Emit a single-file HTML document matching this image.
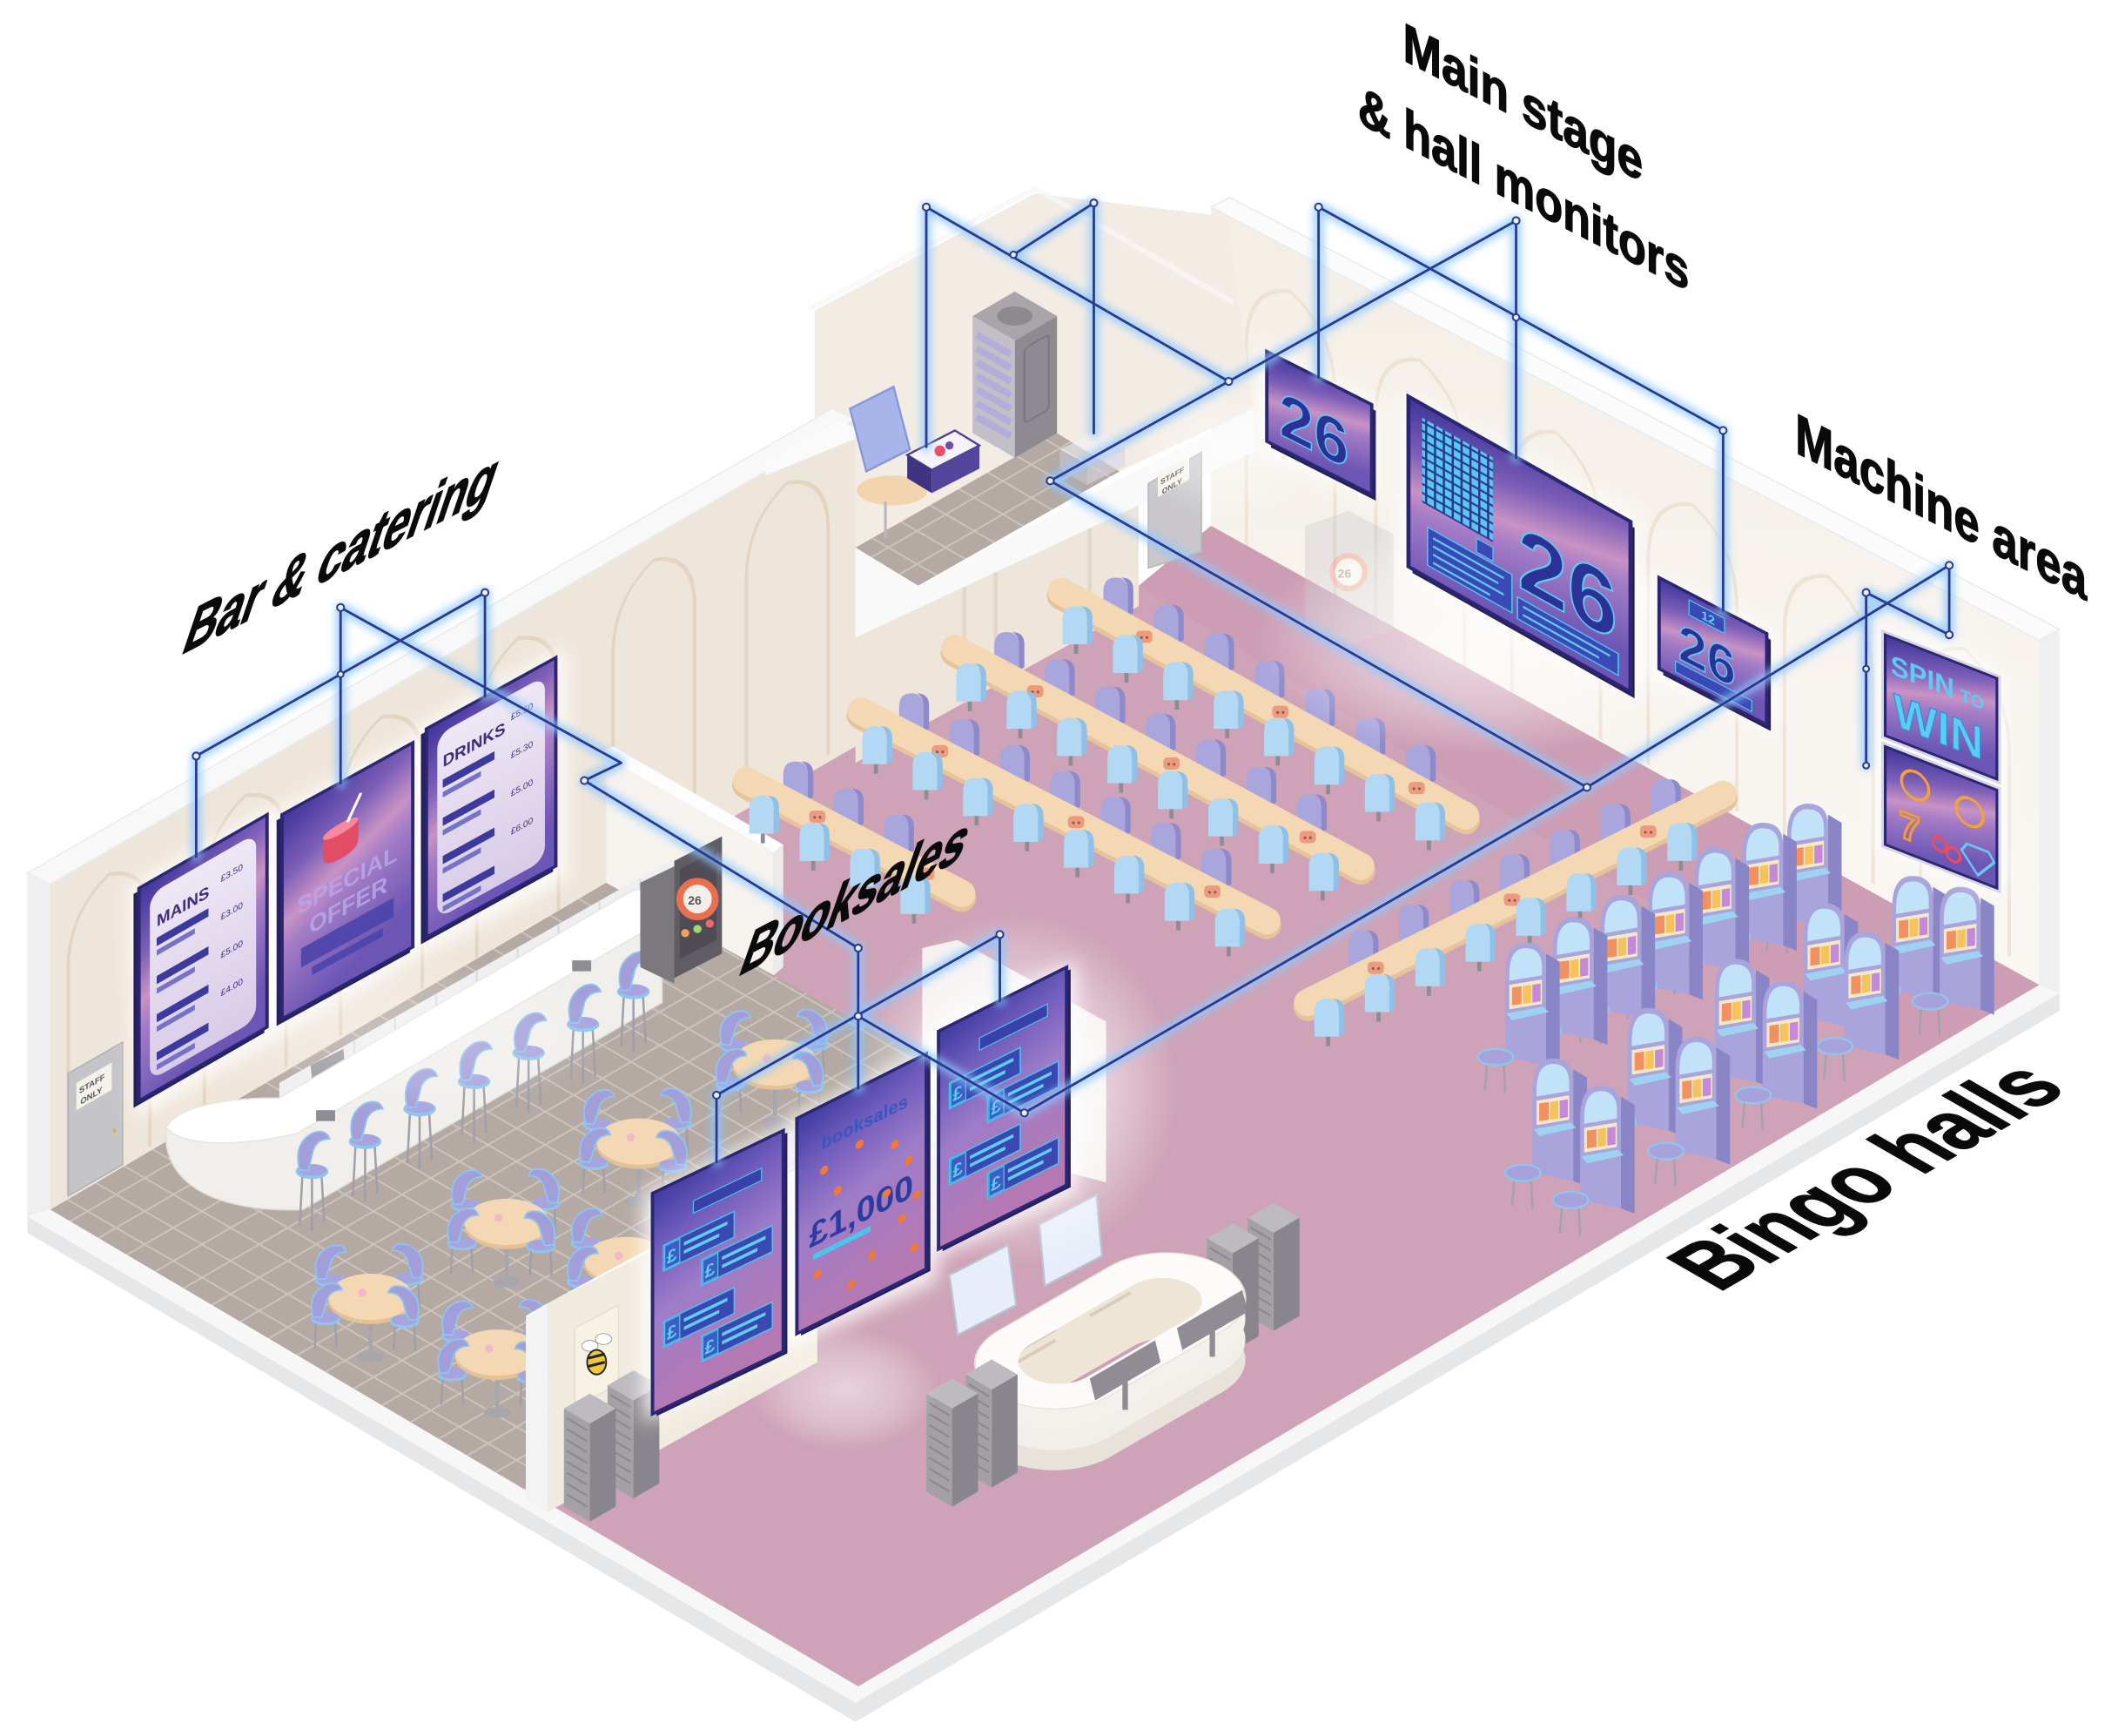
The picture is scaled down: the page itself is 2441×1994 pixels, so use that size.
<!DOCTYPE html>
<html><head><meta charset="utf-8">
<style>
html,body{margin:0;padding:0;background:#fff;}
svg{display:block;}
text{font-family:"Liberation Sans",sans-serif;}
</style></head><body>
<svg width="2441" height="1994" viewBox="0 0 1560 1274.4" xmlns="http://www.w3.org/2000/svg">
<defs>
 <linearGradient id="gS" x1="0" y1="0" x2="0.3" y2="1">
  <stop offset="0" stop-color="#3f349a"/><stop offset="0.3" stop-color="#7d5fb8"/>
  <stop offset="0.5" stop-color="#c892c4"/><stop offset="0.62" stop-color="#a47cc6"/>
  <stop offset="1" stop-color="#6b55b5"/>
 </linearGradient>
 <linearGradient id="gB" x1="0" y1="0" x2="0.2" y2="1">
  <stop offset="0" stop-color="#3e3aa0"/><stop offset="0.25" stop-color="#6f5cbc"/>
  <stop offset="0.55" stop-color="#9e7cc8"/><stop offset="1" stop-color="#b479b3"/>
 </linearGradient>
 <linearGradient id="gP" x1="0" y1="0" x2="0" y2="1">
  <stop offset="0" stop-color="#eee8f5"/><stop offset="1" stop-color="#d8cbe8"/>
 </linearGradient>
 <linearGradient id="gWR" x1="0" y1="0" x2="0" y2="1">
  <stop offset="0" stop-color="#f4eee6"/><stop offset="1" stop-color="#faf7f3"/>
 </linearGradient>
 <radialGradient id="hz"><stop offset="0" stop-color="#fff" stop-opacity="0.95"/><stop offset="0.6" stop-color="#fff" stop-opacity="0.5"/><stop offset="1" stop-color="#fff" stop-opacity="0"/></radialGradient>
 <pattern id="tl" width="21" height="21" patternUnits="userSpaceOnUse" patternTransform="matrix(1,0.58,1,-0.58,0,0)"><rect width="21" height="21" fill="#b4a9a3"/><path d="M0 0.6H21M0.6 0V21" stroke="#cdc4be" stroke-width="1.3"/></pattern>
 <pattern id="gd" width="6.5" height="6.5" patternUnits="userSpaceOnUse"><rect x="0.8" y="0.8" width="4.9" height="4.9" fill="#58c8f0"/></pattern>
 <filter id="gl" x="-5%" y="-5%" width="110%" height="110%"><feGaussianBlur stdDeviation="3"/></filter>
 <filter id="bl" x="-20%" y="-20%" width="140%" height="140%"><feGaussianBlur stdDeviation="7"/></filter>
 <clipPath id="cin"><rect x="-68" y="-24" width="136" height="48" rx="24" transform="matrix(0.866,-0.5,0.866,0.5,815,977)"/></clipPath>

 <g id="cp"><rect x="-1.5" y="-3" width="3" height="10" fill="#8d8b94"/><path d="M-10 0V-18Q-10 -28 -1 -28Q8 -28 8 -18V0Z" fill="#a9a5dd"/><path d="M8 -18Q8 -26 3 -28Q12 -28 12 -19V-2L8 0Z" fill="#8e89cb"/></g>
 <g id="cb"><rect x="-1.5" y="-3" width="3" height="10" fill="#8d8b94"/><path d="M-10 0V-18Q-10 -28 -1 -28Q8 -28 8 -18V0Z" fill="#b3d8f3"/><path d="M8 -18Q8 -26 3 -28Q12 -28 12 -19V-2L8 0Z" fill="#8fc1e8"/></g>
 <g id="st"><path d="M-7 2L-9 40M7 2L9 38M0 3V44" stroke="#a09fa8" stroke-width="1.6" fill="none"/><ellipse rx="12" ry="5.5" fill="#8fc4ee"/><ellipse cy="-1.2" rx="10.5" ry="4.2" fill="#a7a3de"/><path d="M-9 -1Q-14 -20 0 -28Q10 -32 13 -24Q4 -24 1 -16Q-1 -7 -3 -1Z" fill="#a29ed9" stroke="#8fc4ee" stroke-width="1.2"/></g>
 <g id="bc"><path d="M-7 2L-8 22M7 2L8 21" stroke="#a09fa8" stroke-width="1.5" fill="none"/><ellipse rx="11" ry="5" fill="#8fc4ee"/><ellipse cy="-1" rx="9.5" ry="4" fill="#a7a3de"/><path d="M-9 -1Q-14 -18 0 -25Q10 -28 12 -21Q4 -21 1 -14Q-1 -6 -3 -1Z" fill="#a29ed9" stroke="#8fc4ee" stroke-width="1.2"/></g>
 <g id="bt"><path d="M0 8V40" stroke="#a8a6ad" stroke-width="3"/><ellipse cy="44" rx="10" ry="4" fill="#a8a6ad"/><ellipse cy="3" rx="31" ry="17" fill="#e5c197"/><ellipse rx="31" ry="17" fill="#f4d8b3"/><circle cx="-6" cy="-3" r="3" fill="#f2b8c8"/></g>
 <g id="dab"><rect x="-6" y="-5" width="12" height="9" rx="3" fill="#ec9b7f"/><circle cx="-2" cy="0" r="1" fill="#8a5a50"/><circle cx="2" cy="0" r="1" fill="#8a5a50"/></g>
 <g id="sm">
  <path d="M12 8L22 14V94L12 90Z" fill="#8985c7"/>
  <path d="M-18 24Q-18 0 -3 0Q12 0 12 16V90L-18 84Z" fill="#a9a4dc"/>
  <path d="M-15 24Q-15 4 -3 4Q9 4 9 18V24L-15 28Z" fill="#c2e3f7"/>
  <path d="M-15 31L9 27V45L-15 49Z" fill="#f5e8c8"/>
  <path d="M-13 33L-6 32V45L-13 46Z" fill="#f3905f"/>
  <path d="M-5 32L1 31V44L-5 45Z" fill="#f6c35a"/>
  <path d="M2 31L8 30V43L2 44Z" fill="#c48ad8"/>
  <path d="M-17 52L10 47L14 51L-13 57Z" fill="#9fd2f0"/>
  <path d="M-31 86L-33 108M-19 88L-18 110" stroke="#a3a1aa" stroke-width="1.5"/>
  <ellipse cx="-25" cy="84" rx="13" ry="6" fill="#a7a2db" stroke="#8fc6ee" stroke-width="1.5"/>
 </g>
 <g id="rk">
  <path d="M0 0L-19 -11L0 -22L19 -11Z" fill="#bdbac0"/>
  <path d="M-19 -11L0 0V72L-19 61Z" fill="#a3a0a6"/>
  <path d="M0 0L19 -11V61L0 72Z" fill="#88858c"/>
  <path d="M-17 -4L-2 5M-17 4L-2 13M-17 12L-2 21M-17 20L-2 29M-17 28L-2 37M-17 36L-2 45M-17 44L-2 53M-17 52L-2 61" stroke="#8c8990" stroke-width="1.4"/>
 </g>
 <g id="mb"><rect width="38" height="6" fill="#3d3a9e"/><rect y="9" width="28" height="4" fill="#7572c8"/></g>
 <g id="lb"><rect width="52" height="19" fill="#3a48b2" stroke="#48c5ef" stroke-width="1"/><rect x="1" y="1" width="11" height="17" fill="#3f5cc4" stroke="#48c5ef" stroke-width="0.8"/><text x="2.5" y="15" font-size="13" font-weight="700" fill="#5fd0f5">£</text><rect x="15" y="5" width="32" height="2.5" fill="#5fd0f5"/><rect x="15" y="11" width="26" height="2.5" fill="#5fd0f5"/></g>
 <path id="ln" d="M250 446V575M356 435V511M250 446L456 560L429 573L630 696M356 435L144 555V629M630 696V799M734 686V735M734 686L526 804V853M630 746L752 817L1165 578L1431 415V466M1370 435V562M1370 435L1431 466M680 152V328M803 149V318M680 152L902 280L1113 162V336M803 149L744 187M902 280L771 353L1165 578M968 152V277M968 152L1265 316V448"/>
</defs>

<rect width="1560" height="1274.4" fill="#fff"/>

<!-- base slab -->
<polygon points="20,893 628,1250 1512,729 1512,742 628,1264 20,905" fill="#e6e7e9"/>
<polygon points="20,893 37,888 630,1237 1497,722 1512,729 628,1250" fill="#f7f7f8"/>

<!-- right back wall -->
<polygon points="889,152 1497,470 1497,723 889,386" fill="url(#gWR)"/>
<g transform="matrix(1,0.53,0,1,0,0)" fill="none" stroke="#ecdfcf" stroke-width="2.5" opacity="0.8">
 <path d="M915 -80V-230Q915 -275 947 -288Q980 -275 980 -230V-80"/>
 <path d="M1010 -80V-230Q1010 -275 1042 -288Q1075 -275 1075 -230V-80"/>
 <path d="M1110 -80V-230Q1110 -275 1142 -288Q1175 -275 1175 -230V-80"/>
 <path d="M1210 -80V-230Q1210 -275 1242 -288Q1275 -275 1275 -230V-80"/>
 <path d="M1310 -80V-230Q1310 -275 1342 -288Q1375 -275 1375 -230V-80"/>
 <path d="M1410 -80V-230Q1410 -275 1442 -288Q1475 -275 1475 -230V-80"/>
</g>
<polygon points="889,152 903,145 1512,462 1497,470" fill="#fbfbfb" stroke="#ebebed" stroke-width="1"/>
<polygon points="1497,470 1512,462 1512,729 1497,723" fill="#efeff1"/>

<!-- server room back -->
<polygon points="598,228 760,142 901,159 920,300 822,346 776,318 630,402 598,413" fill="#f3ece4"/>
<polyline points="594,227 760,138 905,222" fill="none" stroke="#f8f8f8" stroke-width="4" opacity="0.8"/>
<polygon points="628,402 674,430 822,346 776,318" fill="url(#tl)"/>

<!-- left long wall -->
<polygon points="37,649 628,308 628,620 37,888" fill="#efe6db"/>
<g transform="matrix(1,-0.577,0,1,0,0)" fill="none" stroke="#e4d4c1" stroke-width="2.5">
 <path d="M50 905V740Q50 700 80 688Q110 700 110 740V905"/>
 <path d="M150 905V740Q150 700 180 688Q210 700 210 740V905"/>
 <path d="M250 905V740Q250 700 280 688Q310 700 310 740V905"/>
 <path d="M350 905V740Q350 700 380 688Q410 700 410 740V905"/>
 <path d="M450 905V740Q450 700 480 688Q510 700 510 740V905"/>
 <path d="M548 905V740Q548 700 578 688Q608 700 608 740V905"/>
</g>
<polygon points="20,641 611,300 628,308 37,649" fill="#f8f8f8" stroke="#ebebec" stroke-width="1"/>
<polygon points="20,641 37,649 37,888 20,893" fill="#efeff0"/>
<polygon points="562,338 617,309 628,314 628,322 562,349" fill="#fafafa"/>

<!-- server room objects -->
<ellipse cx="655" cy="360" rx="26" ry="11" fill="#f2d5ae"/>
<path d="M650 368V395" stroke="#b9b6bd" stroke-width="2"/>
<polygon points="624,300 656,284 668,330 636,346" fill="#a7b5ea" stroke="#8796d6" stroke-width="1.5"/>
<polygon points="714,232 745,214 776,232 745,250" fill="#aaa5ab"/>
<polygon points="714,232 745,250 745,336 714,318" fill="#c3bfc6"/>
<polygon points="745,250 776,232 776,318 745,336" fill="#8f8a91"/>
<ellipse cx="745" cy="232" rx="13" ry="7" fill="#8e898f"/>
<path d="M717 246L742 260M717 256L742 270M717 266L742 280M717 276L742 290M717 286L742 300M717 296L742 310M717 306L742 320" stroke="#b4addb" stroke-width="5"/>
<rect x="752" y="255" width="18" height="55" rx="3" fill="none" stroke="#7d787f" stroke-width="1.5" transform="matrix(1,-0.58,0,1,0,437)"/>
<polygon points="666,334 701,316 719,327 684,345" fill="#f5f3f8" stroke="#4b3d90" stroke-width="1.5"/>
<polygon points="666,334 684,345 684,362 666,351" fill="#3f3382"/>
<polygon points="684,345 719,327 719,344 684,362" fill="#53459c"/>
<circle cx="690" cy="331" r="4" fill="#e94f6b"/><circle cx="697" cy="327" r="3" fill="#6a4fb0"/>
<g opacity="0.6"><polygon points="778,330 806,316 826,327 798,341" fill="#f3f2f7"/><polygon points="778,330 798,341 798,356 778,345" fill="#c9c6d8"/><polygon points="798,341 826,327 826,342 798,356" fill="#d9d6e6"/></g>

<!-- pink floor -->
<polygon points="37,888 630,1238 1497,723 889,386 836,430 628,548" fill="#cea3b7"/>
<polygon points="836,430 889,386 1497,723 1400,780 900,470" fill="#c997b0" opacity="0.5"/>

<!-- server slab + lower wall -->
<polygon points="628,402 674,430 920,300 920,332 628,468" fill="#f9f9f9"/>
<polygon points="628,468 836,371 836,445 628,560" fill="#efe6db"/>
<path d="M708 431V516M731 420V503M800 388V465" stroke="#e4d7c8" stroke-width="3"/>
<polygon points="843,355 882,332 882,405 843,417" fill="#c9c7cb" stroke="#b8b6bb" stroke-width="1"/>
<polygon points="850,348 873,335 873,352 850,365" fill="#f6f4ea"/>
<text transform="matrix(1,-0.577,0,1,852,356)" font-size="5.5" font-weight="700" fill="#555">STAFF</text>
<text transform="matrix(1,-0.577,0,1,853,363)" font-size="5.5" font-weight="700" fill="#555">ONLY</text>

<!-- stage bingo machine -->
<g opacity="0.35"><polygon points="958,386 990,375 1023,392 1023,462 991,474 958,458" fill="#c8c6ca"/><circle cx="990" cy="420" r="12" fill="#fff" stroke="#f07a5e" stroke-width="4"/><text x="982" y="424" font-size="9" font-weight="700" fill="#555">26</text></g>

<!-- bar tile floor -->
<polygon points="37,888 385,1093 804,846 445,648" fill="url(#tl)"/>

<!-- bar door -->
<polygon points="50,788 90,765 90,855 50,878" fill="#c5c4c8" stroke="#b2b1b6" stroke-width="1"/>
<polygon points="56,795 82,780 82,800 56,815" fill="#f4f2ea"/>
<text transform="matrix(1,-0.577,0,1,58,803)" font-size="6" font-weight="700" fill="#555">STAFF</text>
<text transform="matrix(1,-0.577,0,1,59,811)" font-size="6" font-weight="700" fill="#555">ONLY</text>
<circle cx="84" cy="830" r="1.5" fill="#d8b24a"/>

<!-- partition bar/main hall -->
<polygon points="445,556 568,626 568,716 445,648" fill="#f6f3ef"/>
<polygon points="440,553 450,548 575,620 568,626 445,556" fill="#fdfdfd"/>
<polygon points="568,626 575,620 575,710 568,716" fill="#ecebea"/>

<!-- seats main hall -->
<g>
 <use href="#cp" x="820" y="452"/><use href="#cp" x="857" y="472"/><use href="#cp" x="894" y="493"/><use href="#cp" x="931" y="513"/><use href="#cp" x="968" y="534"/><use href="#cp" x="1005" y="555"/><use href="#cp" x="1042" y="575"/>
 <path d="M779 437L1076 602" stroke="#e6c39a" stroke-width="21" stroke-linecap="round"/>
 <path d="M779 434L1076 599" stroke="#f4d8b4" stroke-width="20" stroke-linecap="round"/>
 <use href="#dab" x="840" y="468"/><use href="#dab" x="940" y="523"/><use href="#dab" x="1040" y="579"/>
 <use href="#cb" x="790" y="473"/><use href="#cb" x="827" y="494"/><use href="#cb" x="864" y="514"/><use href="#cb" x="901" y="535"/><use href="#cb" x="938" y="555"/><use href="#cb" x="975" y="576"/><use href="#cb" x="1012" y="596"/><use href="#cb" x="1049" y="617"/>

 <use href="#cp" x="740" y="492"/><use href="#cp" x="777" y="512"/><use href="#cp" x="814" y="532"/><use href="#cp" x="851" y="552"/><use href="#cp" x="888" y="571"/><use href="#cp" x="925" y="591"/><use href="#cp" x="962" y="611"/>
 <path d="M701 479L999 639" stroke="#e6c39a" stroke-width="21" stroke-linecap="round"/>
 <path d="M701 476L999 636" stroke="#f4d8b4" stroke-width="20" stroke-linecap="round"/>
 <use href="#dab" x="760" y="508"/><use href="#dab" x="860" y="561"/><use href="#dab" x="960" y="615"/>
 <use href="#cb" x="712" y="515"/><use href="#cb" x="749" y="535"/><use href="#cb" x="786" y="555"/><use href="#cb" x="823" y="575"/><use href="#cb" x="860" y="594"/><use href="#cb" x="897" y="614"/><use href="#cb" x="934" y="634"/><use href="#cb" x="971" y="654"/>

 <use href="#cp" x="670" y="537"/><use href="#cp" x="707" y="556"/><use href="#cp" x="744" y="575"/><use href="#cp" x="781" y="594"/><use href="#cp" x="818" y="613"/><use href="#cp" x="855" y="632"/><use href="#cp" x="892" y="651"/>
 <path d="M632 525L930 679" stroke="#e6c39a" stroke-width="21" stroke-linecap="round"/>
 <path d="M632 522L930 676" stroke="#f4d8b4" stroke-width="20" stroke-linecap="round"/>
 <use href="#dab" x="690" y="552"/><use href="#dab" x="790" y="604"/><use href="#dab" x="890" y="655"/>
 <use href="#cb" x="643" y="561"/><use href="#cb" x="680" y="580"/><use href="#cb" x="717" y="599"/><use href="#cb" x="754" y="618"/><use href="#cb" x="791" y="637"/><use href="#cb" x="828" y="656"/><use href="#cb" x="865" y="676"/><use href="#cb" x="902" y="695"/>

 <use href="#cp" x="585" y="587"/><use href="#cp" x="622" y="607"/><use href="#cp" x="659" y="626"/>
 <path d="M548 576L706 659" stroke="#e6c39a" stroke-width="21" stroke-linecap="round"/>
 <path d="M548 573L706 656" stroke="#f4d8b4" stroke-width="20" stroke-linecap="round"/>
 <use href="#dab" x="600" y="600"/><use href="#dab" x="680" y="642"/>
 <use href="#cb" x="560" y="612"/><use href="#cb" x="597" y="632"/><use href="#cb" x="634" y="651"/><use href="#cb" x="671" y="671"/>

 <use href="#cp" x="1000" y="711"/><use href="#cp" x="1037" y="692"/><use href="#cp" x="1074" y="674"/><use href="#cp" x="1111" y="655"/><use href="#cp" x="1148" y="637"/><use href="#cp" x="1185" y="618"/><use href="#cp" x="1222" y="600"/>
 <path d="M960 739L1265 586" stroke="#e6c39a" stroke-width="21" stroke-linecap="round"/>
 <path d="M960 736L1265 583" stroke="#f4d8b4" stroke-width="20" stroke-linecap="round"/>
 <use href="#dab" x="1010" y="711"/><use href="#dab" x="1110" y="661"/><use href="#dab" x="1210" y="611"/>
 <use href="#cb" x="975" y="761"/><use href="#cb" x="1012" y="743"/><use href="#cb" x="1049" y="724"/><use href="#cb" x="1086" y="706"/><use href="#cb" x="1123" y="687"/><use href="#cb" x="1160" y="669"/><use href="#cb" x="1197" y="650"/><use href="#cb" x="1234" y="632"/>
</g>

<!-- slot machines -->
<g>
 <use href="#sm" x="1330" y="590"/><use href="#sm" x="1297" y="604"/><use href="#sm" x="1262" y="622"/><use href="#sm" x="1228" y="640"/><use href="#sm" x="1407" y="643"/><use href="#sm" x="1442" y="651"/><use href="#sm" x="1193" y="657"/><use href="#sm" x="1342" y="663"/><use href="#sm" x="1158" y="673"/><use href="#sm" x="1372" y="684"/><use href="#sm" x="1123" y="692"/><use href="#sm" x="1277" y="704"/><use href="#sm" x="1312" y="720"/><use href="#sm" x="1213" y="740"/><use href="#sm" x="1248" y="761"/><use href="#sm" x="1143" y="777"/><use href="#sm" x="1178" y="797"/>
</g>

<!-- bar back bar & counter -->
<polygon points="205,795 495,630 495,690 205,858" fill="#efeff1"/>
<path d="M230 781V843M260 764V826M290 747V809M320 730V792M350 713V775M380 696V758M410 679V741M440 662V724M470 645V707" stroke="#dcdce0" stroke-width="1.5"/>
<polygon points="228,782 252,770 255,802 231,814" fill="#9a98a0"/>
<polygon points="436,676 452,667 455,700 439,709" fill="#9a98a0"/>
<path d="M122 828C135 842 175 842 218 832L486 676L486 736L222 888C160 890 118 870 122 828Z" fill="#f1efec" stroke="#e3e0dc" stroke-width="1"/>
<path d="M122 828C130 812 165 806 205 806L462 655C478 648 492 660 486 676L218 832C175 842 135 842 122 828Z" fill="#ffffff" stroke="#e8e6e3" stroke-width="1"/>
<rect x="232" y="815" width="14" height="8" fill="#8e8c94"/>
<rect x="420" y="705" width="14" height="8" fill="#8e8c94"/>
<g>
 <use href="#st" x="465" y="728"/><use href="#st" x="428" y="752"/><use href="#st" x="388" y="773"/><use href="#st" x="348" y="794"/><use href="#st" x="308" y="814"/><use href="#st" x="268" y="838"/><use href="#st" x="229" y="860"/>
</g>

<!-- bar bingo machine -->
<polygon points="470,648 495,636 495,722 470,710" fill="#7b787e"/>
<polygon points="495,632 530,614 530,700 495,718" fill="#5f5c63"/>
<polygon points="499,638 526,624 526,690 499,704" fill="#4f4c55"/>
<circle cx="512" cy="660" r="13" fill="#f3eee9" stroke="#e8704e" stroke-width="5"/>
<text x="505" y="664" font-size="9" font-weight="700" fill="#555">26</text>
<circle cx="503" cy="685" r="3" fill="#f0a35a"/><circle cx="512" cy="682" r="3" fill="#9fd96a"/><circle cx="521" cy="678" r="3" fill="#f06a6a"/>

<!-- bar tables -->
<g>
 <use href="#bc" x="539" y="768"/><use href="#bc" transform="translate(597,767) scale(-1,1)"/><use href="#bt" x="569" y="780"/><use href="#bc" x="536" y="796"/><use href="#bc" transform="translate(594,798) scale(-1,1)"/>
 <use href="#bc" x="439" y="826"/><use href="#bc" transform="translate(497,825) scale(-1,1)"/><use href="#bt" x="469" y="838"/><use href="#bc" x="436" y="854"/><use href="#bc" transform="translate(494,856) scale(-1,1)"/>
 <use href="#bc" x="342" y="885"/><use href="#bc" transform="translate(400,884) scale(-1,1)"/><use href="#bt" x="372" y="897"/><use href="#bc" x="339" y="913"/><use href="#bc" transform="translate(397,915) scale(-1,1)"/>
 <use href="#bc" x="430" y="913"/><use href="#bc" transform="translate(488,912) scale(-1,1)"/><use href="#bt" x="460" y="925"/><use href="#bc" x="427" y="941"/><use href="#bc" transform="translate(485,943) scale(-1,1)"/>
 <use href="#bc" x="242" y="940"/><use href="#bc" transform="translate(300,939) scale(-1,1)"/><use href="#bt" x="272" y="952"/><use href="#bc" x="239" y="968"/><use href="#bc" transform="translate(297,970) scale(-1,1)"/>
 <use href="#bc" x="335" y="981"/><use href="#bc" transform="translate(393,980) scale(-1,1)"/><use href="#bt" x="365" y="993"/><use href="#bc" x="332" y="1009"/><use href="#bc" transform="translate(390,1011) scale(-1,1)"/>
</g>

<!-- booksales partition (bee wall) -->
<polygon points="402,957 600,857 600,1000 402,1110" fill="#f1eadf"/>
<polygon points="386,966 396,960 600,850 600,857 402,957 388,972" fill="#fbfbfb"/>
<polygon points="386,968 402,957 402,1110 386,1101" fill="#f3f3f4"/>
<polygon points="422,975 454,958 454,1016 422,1033" fill="#f7f2e3" stroke="#e6dfcc" stroke-width="1"/>
<ellipse cx="433" cy="988" rx="6" ry="4" fill="#fff" stroke="#999" stroke-width="0.6"/>
<ellipse cx="443" cy="983" rx="6" ry="4" fill="#fff" stroke="#999" stroke-width="0.6"/>
<ellipse cx="438" cy="1000" rx="7" ry="9" fill="#f0c83a" stroke="#222" stroke-width="1.2"/>
<path d="M432 997L444 994M432 1003L444 1000" stroke="#222" stroke-width="2"/>
<use href="#rk" x="465" y="1028"/><use href="#rk" x="433" y="1045"/>

<!-- pillar -->
<polygon points="677,696 703,690 812,750 812,868 705,840 677,800" fill="#f8f5f3" opacity="0.92"/>

<!-- booksales counter -->
<use href="#rk" x="935" y="905"/><use href="#rk" x="905" y="920"/>
<g>
 <rect x="-95" y="-47.5" width="190" height="95" rx="47.5" transform="matrix(0.866,-0.5,0.866,0.5,815,1022)" fill="#e8e2da"/>
 <rect x="-95" y="-47.5" width="190" height="95" rx="47.5" transform="matrix(0.866,-0.5,0.866,0.5,815,1007)" fill="#f2eee9"/>
 <rect x="-95" y="-47.5" width="190" height="95" rx="47.5" transform="matrix(0.866,-0.5,0.866,0.5,815,992)" fill="#f4f1ec"/>
 <rect x="-95" y="-47.5" width="190" height="95" rx="47.5" transform="matrix(0.866,-0.5,0.866,0.5,815,977)" fill="#fcfbf9" stroke="#e6e0d8" stroke-width="1"/>
 <g clip-path="url(#cin)">
  <rect x="-80" y="-40" width="160" height="80" transform="matrix(0.866,-0.5,0.866,0.5,815,977)" fill="#efe5d6"/>
  <rect x="-68" y="-24" width="136" height="48" rx="24" transform="matrix(0.866,-0.5,0.866,0.5,815,1022)" fill="#cda1b5"/>
  <path d="M745 985L775 968M745 993L775 976M745 1001L775 984M800 950L830 933M800 958L830 941M800 966L830 949" stroke="#d9ccbb" stroke-width="2.5"/>
 </g>
 <polygon points="697,936 740,914 746,958 703,980" fill="#e8eef9" stroke="#b9c1d4" stroke-width="1.5"/>
 <polygon points="763,899 805,877 809,922 767,944" fill="#e8eef9" stroke="#b9c1d4" stroke-width="1.5"/>
 <polygon points="800,1012 848,984 852,1000 804,1028" fill="#8f8c93"/>
 <path d="M826 1005V1035" stroke="#8f8c93" stroke-width="4"/>
 <polygon points="864,975 912,947 916,963 868,991" fill="#8f8c93"/>
 <path d="M890 968V996" stroke="#8f8c93" stroke-width="4"/>
</g>
<use href="#rk" x="728" y="1020"/><use href="#rk" x="699" y="1034"/>

<!-- haze -->
<ellipse cx="745" cy="800" rx="120" ry="130" fill="url(#hz)" opacity="0.85"/>
<ellipse cx="1090" cy="470" rx="170" ry="85" fill="url(#hz)" opacity="0.7"/>
<ellipse cx="620" cy="1020" rx="70" ry="45" fill="url(#hz)" opacity="0.55"/>
<ellipse cx="1425" cy="540" rx="55" ry="110" fill="url(#hz)" opacity="0.6"/>
<ellipse cx="300" cy="760" rx="150" ry="60" fill="url(#hz)" opacity="0.3"/>
<ellipse cx="900" cy="330" rx="70" ry="50" fill="url(#hz)" opacity="0.5"/>

<!-- screen glow -->
<g filter="url(#bl)" fill="#ffffff" opacity="0.85">
 <polygon points="95,652 200,592 205,760 100,820"/>
 <polygon points="200,598 310,538 310,700 205,760"/>
 <polygon points="306,535 415,475 415,645 310,700"/>
 <polygon points="472,876 582,825 582,990 472,1045"/>
 <polygon points="578,821 688,768 688,940 578,990"/>
 <polygon points="682,757 790,705 790,875 682,925"/>
 <polygon points="925,254 1012,296 1012,370 925,330"/>
 <polygon points="1028,287 1203,380 1203,512 1028,420"/>
 <polygon points="1212,420 1303,465 1303,538 1212,496"/>
 <polygon points="1378,460 1472,496 1472,655 1378,622"/>
</g>

<!-- bar screens -->
<g transform="matrix(1,-0.574,0,1,102,652)">
 <rect x="-4" y="2" width="96" height="157" fill="#27205e"/>
 <rect width="94" height="156" fill="url(#gS)" stroke="#2b2672" stroke-width="2.5"/>
 <rect x="8" y="9" width="78" height="137" rx="10" fill="url(#gP)"/>
 <text x="13" y="36" font-size="12" font-weight="700" fill="#3b2f80">MAINS</text>
 <text x="60" y="30" font-size="6.5" fill="#3b2f80">£3.50</text>
 <text x="60" y="58" font-size="6.5" fill="#3b2f80">£3.00</text>
 <text x="60" y="86" font-size="6.5" fill="#3b2f80">£5.00</text>
 <text x="60" y="114" font-size="6.5" fill="#3b2f80">£4.00</text>
 <use href="#mb" x="13" y="44"/><use href="#mb" x="13" y="72"/><use href="#mb" x="13" y="100"/><use href="#mb" x="13" y="128"/>
</g>
<g transform="matrix(1,-0.55,0,1,207,598)">
 <rect x="-4" y="2" width="98" height="151" fill="#27205e"/>
 <rect width="96" height="150" fill="url(#gS)" stroke="#2b2672" stroke-width="2.5"/>
 <path d="M30 34H56V48Q56 56 43 56Q30 56 30 48Z" fill="#e24c64"/>
 <ellipse cx="43" cy="34" rx="13" ry="4" fill="#f58a9c"/>
 <path d="M48 32L58 16" stroke="#fff" stroke-width="2.5"/>
 <text x="11" y="80" font-size="17" font-weight="700" fill="#b9a7ea" opacity="0.85">SPECIAL</text>
 <text x="20" y="99" font-size="17" font-weight="700" fill="#b9a7ea" opacity="0.85">OFFER</text>
 <rect x="14" y="106" width="68" height="14" fill="#4b44aa" opacity="0.9"/>
 <rect x="22" y="124" width="52" height="6" fill="#4b44aa" opacity="0.9"/>
</g>
<g transform="matrix(1,-0.55,0,1,313,535)">
 <rect x="-4" y="2" width="97" height="154" fill="#27205e"/>
 <rect width="95" height="153" fill="url(#gS)" stroke="#2b2672" stroke-width="2.5"/>
 <rect x="8" y="9" width="79" height="135" rx="10" fill="url(#gP)"/>
 <text x="12" y="35" font-size="12" font-weight="700" fill="#3b2f80">DRINKS</text>
 <text x="62" y="28" font-size="6.5" fill="#3b2f80">£5.50</text>
 <text x="62" y="56" font-size="6.5" fill="#3b2f80">£5.30</text>
 <text x="62" y="84" font-size="6.5" fill="#3b2f80">£5.00</text>
 <text x="62" y="112" font-size="6.5" fill="#3b2f80">£6.00</text>
 <use href="#mb" x="12" y="44"/><use href="#mb" x="12" y="72"/><use href="#mb" x="12" y="100"/><use href="#mb" x="12" y="128"/>
</g>

<!-- booksales screens -->
<g transform="matrix(1,-0.48,0,1,479,876)">
 <rect x="3" y="3" width="96" height="162" fill="#241f62"/>
 <rect width="96" height="162" fill="url(#gB)" stroke="#2b2672" stroke-width="2.5"/>
 <rect x="30" y="20" width="50" height="9" fill="#3940a8" stroke="#4ac6ee" stroke-width="0.8"/>
 <use href="#lb" x="8" y="42"/><use href="#lb" x="36" y="66"/><use href="#lb" x="8" y="98"/><use href="#lb" x="36" y="122"/>
</g>
<g transform="matrix(1,-0.5,0,1,585,821)">
 <rect x="3" y="3" width="95" height="158" fill="#241f62"/>
 <rect width="95" height="158" fill="url(#gB)" stroke="#2b2672" stroke-width="2.5"/>
 <text x="18" y="32" font-size="13" font-weight="700" fill="#3a55c0">booksales</text>
 <text x="9" y="100" font-size="25" font-weight="700" fill="#2c3b9f">£1,000</text>
 <rect x="12" y="106" width="42" height="4" fill="#4ac6ee"/>
 <g fill="#f07a35"><circle cx="20" cy="48" r="3"/><circle cx="46" cy="42" r="3"/><circle cx="72" cy="55" r="3"/><circle cx="30" cy="68" r="3"/><circle cx="82" cy="72" r="3"/><circle cx="15" cy="122" r="3"/><circle cx="55" cy="128" r="3"/><circle cx="77" cy="112" r="3"/><circle cx="40" cy="142" r="3"/><circle cx="86" cy="138" r="3"/><circle cx="66" cy="88" r="3"/><circle cx="88" cy="100" r="3"/></g>
</g>
<g transform="matrix(1,-0.5,0,1,689,757)">
 <rect x="3" y="3" width="94" height="160" fill="#241f62"/>
 <rect width="94" height="160" fill="url(#gB)" stroke="#2b2672" stroke-width="2.5"/>
 <rect x="30" y="20" width="50" height="9" fill="#3940a8" stroke="#4ac6ee" stroke-width="0.8"/>
 <use href="#lb" x="8" y="42"/><use href="#lb" x="36" y="66"/><use href="#lb" x="8" y="98"/><use href="#lb" x="36" y="122"/>
</g>

<!-- stage screens -->
<g transform="matrix(1,0.506,0,1,930,258)">
 <rect x="3" y="3" width="77" height="66" fill="#25205a"/>
 <rect width="77" height="66" fill="url(#gS)" stroke="#2b2672" stroke-width="2.5"/>
 <text x="9" y="56" font-size="46" font-weight="700" fill="#2a3296" stroke="#5cc6f0" stroke-width="1">26</text>
</g>
<g transform="matrix(1,0.564,0,1,1034,291)">
 <rect x="3" y="3" width="163" height="125" fill="#25205a"/>
 <rect width="163" height="125" fill="url(#gS)" stroke="#2b2672" stroke-width="3"/>
 <rect x="10" y="10" width="52" height="62" fill="#2e3590"/>
 <rect x="10" y="10" width="52" height="62" fill="url(#gd)"/>
 <rect x="50" y="76" width="12" height="10" fill="#3b49b6" stroke="#49c8f0" stroke-width="0.8"/>
 <text x="80" y="94" font-size="66" font-weight="700" fill="#2a3296" stroke="#62c9f1" stroke-width="1.2">26</text>
 <rect x="14" y="88" width="62" height="28" fill="#3b49b6" stroke="#49c8f0" stroke-width="1"/>
 <path d="M18 94H70M18 100H66M18 106H70M18 112H60" stroke="#5fd0f5" stroke-width="1.6"/>
 <rect x="80" y="102" width="74" height="16" fill="#3b49b6" stroke="#49c8f0" stroke-width="1"/>
 <path d="M84 107H148M84 113H140" stroke="#5fd0f5" stroke-width="1.6"/>
</g>
<g transform="matrix(1,0.52,0,1,1218,424)">
 <rect x="3" y="3" width="79" height="67" fill="#25205a"/>
 <rect width="79" height="67" fill="url(#gS)" stroke="#2b2672" stroke-width="2.5"/>
 <rect x="22" y="5" width="26" height="11" fill="#3b49b6" stroke="#49c8f0" stroke-width="0.8"/>
 <text x="31" y="14" font-size="9" font-weight="700" fill="#5fd0f5">12</text>
 <text x="14" y="52" font-size="38" font-weight="700" fill="#2a3296" stroke="#5cc6f0" stroke-width="1">26</text>
 <rect x="12" y="55" width="56" height="8" fill="#3b49b6" stroke="#49c8f0" stroke-width="0.8"/>
</g>

<!-- machine area screens -->
<g transform="matrix(1,0.39,0,1,1384,466)">
 <rect x="-3" y="-3" width="88" height="80" fill="#d9d7e6"/>
 <rect width="82" height="74" fill="url(#gS)" stroke="#2b2672" stroke-width="2"/>
 <text x="4" y="27" font-size="20" font-weight="700" fill="#5fcaf3">SPIN</text>
 <text x="55" y="27" font-size="13" font-weight="700" fill="#5fcaf3">TO</text>
 <text x="6" y="64" font-size="34" font-weight="700" fill="#5fcaf3" stroke="#2f8fd0" stroke-width="0.8">WIN</text>
</g>
<g transform="matrix(1,0.39,0,1,1384,548)">
 <rect x="-3" y="-3" width="88" height="78" fill="#d9d7e6"/>
 <rect width="82" height="72" fill="url(#gS)" stroke="#2b2672" stroke-width="2"/>
 <circle cx="22" cy="20" r="10" fill="none" stroke="#f3a23a" stroke-width="2.2"/>
 <circle cx="62" cy="24" r="10" fill="none" stroke="#f3a23a" stroke-width="2.2"/>
 <text x="10" y="62" font-size="28" font-weight="700" fill="none" stroke="#f39b35" stroke-width="1.8">7</text>
 <circle cx="40" cy="56" r="5" fill="none" stroke="#ef4b5e" stroke-width="2"/>
 <circle cx="50" cy="60" r="5" fill="none" stroke="#ef4b5e" stroke-width="2"/>
 <path d="M60 48H76L80 54L68 68L56 54Z" fill="none" stroke="#6cc7f2" stroke-width="1.8"/>
</g>

<!-- connector lines -->
<g fill="none" stroke-linecap="round" stroke-linejoin="round">
 <g filter="url(#gl)"><use href="#ln" stroke="#8cc8ff" stroke-width="7" opacity="0.85"/></g>
 <use href="#ln" stroke="#2a3a92" stroke-width="1.8"/>
</g>
<g fill="#e9f0ff" stroke="#2a3a92" stroke-width="1.3">
 <circle cx="250" cy="446" r="2.6"/><circle cx="356" cy="435" r="2.6"/><circle cx="144" cy="555" r="2.6"/><circle cx="250" cy="495" r="2.2"/><circle cx="429" cy="573" r="2.6"/>
 <circle cx="630" cy="696" r="2.6"/><circle cx="734" cy="686" r="2.6"/><circle cx="630" cy="746" r="2.6"/><circle cx="526" cy="804" r="2.6"/><circle cx="752" cy="817" r="2.6"/>
 <circle cx="1165" cy="578" r="2.6"/><circle cx="1431" cy="415" r="2.6"/><circle cx="1370" cy="435" r="2.6"/><circle cx="1431" cy="466" r="2.6"/><circle cx="1370" cy="491" r="2.2"/><circle cx="1370" cy="562" r="2.2"/>
 <circle cx="680" cy="152" r="2.6"/><circle cx="803" cy="149" r="2.6"/><circle cx="744" cy="187" r="2.4"/><circle cx="902" cy="280" r="2.6"/><circle cx="771" cy="353" r="2.6"/>
 <circle cx="968" cy="152" r="2.6"/><circle cx="1113" cy="162" r="2.6"/><circle cx="1113" cy="233" r="2.4"/><circle cx="1265" cy="316" r="2.6"/>
</g>

<!-- labels -->
<g font-weight="700" fill="#0a0a0a" stroke="#0a0a0a" stroke-linejoin="round">
 <text transform="matrix(0.890,-0.456,-0.32,0.947,132,481)" font-size="53" textLength="255" lengthAdjust="spacingAndGlyphs" stroke-width="1.2">Bar &amp; catering</text>
 <text transform="matrix(0.885,-0.466,-0.33,0.944,541,717)" font-size="51" textLength="185" lengthAdjust="spacingAndGlyphs" stroke-width="1.2">Booksales</text>
 <text transform="translate(1030,44) skewY(27)" font-size="40" textLength="176" lengthAdjust="spacingAndGlyphs" stroke-width="0.9">Main stage</text>
 <text transform="translate(997,90) skewY(27)" font-size="40" textLength="243" lengthAdjust="spacingAndGlyphs" stroke-width="0.9">&amp; hall monitors</text>
 <text transform="translate(1318,332) skewY(27)" font-size="42" textLength="214" lengthAdjust="spacingAndGlyphs" stroke-width="0.9">Machine area</text>
 <text transform="matrix(0.866,-0.5,0.866,0.5,1261.6,949)" font-size="69" textLength="297" lengthAdjust="spacingAndGlyphs" stroke-width="1">Bingo halls</text>
</g>
</svg>
</body></html>
